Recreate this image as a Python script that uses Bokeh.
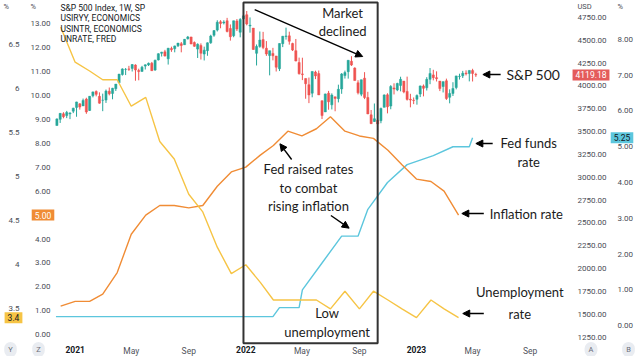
import pandas as pd
from bokeh.plotting import figure
from bokeh.models import (Range1d, LinearAxis, DatetimeAxis, FixedTicker, Label, ColumnDataSource,
                          BoxAnnotation, Arrow, NormalHead, PrintfTickFormatter)
from bokeh.embed import file_html
from bokeh.resources import INLINE

# ---------------- data ----------------
spx_first_week = "2020-11-23"
spx_open = [3566, 3634, 3694, 3675, 3694, 3723,
            3764, 3803, 3781, 3855, 3731, 3892, 3939, 3885, 3842, 3844, 3942, 3917, 3969,
            4034, 4124, 4179, 4185, 4191, 4228, 4169, 4158, 4216, 4229, 4248, 4173, 4284,
            4356, 4372, 4296, 4410, 4406, 4439, 4461, 4450, 4515, 4535, 4474, 4402, 4442,
            4348, 4385, 4471, 4553, 4610, 4701, 4689, 4712, 4628, 4548, 4710, 4587, 4733,
            4778, 4655, 4632, 4356, 4432, 4506, 4412, 4332, 4355, 4327, 4188, 4462, 4541,
            4547, 4463, 4385, 4255, 4131, 4081, 4013, 3920, 4151, 4134, 3838, 3715, 3920,
            3792, 3880, 3860, 3966, 4113, 4155, 4269, 4195, 4034, 3909, 4084, 3873, 3683,
            3610, 3624, 3619, 3765, 3902, 3779, 3977, 3956, 4005, 4052, 3939, 3854, 3843,
            3853, 3910, 3999, 3979, 4071, 4120, 4090, 4052, 3993, 4055, 3875, 3917, 3982,
            4102, 4110, 4140, 4134, 4167, 4124]
spx_high = [3644, 3699, 3712, 3726, 3711, 3760,
            3826, 3810, 3861, 3870, 3887, 3937, 3950, 3929, 3915, 3960, 3982, 3978, 4020,
            4129, 4192, 4195, 4219, 4238, 4236, 4188, 4219, 4234, 4255, 4262, 4286, 4356,
            4372, 4394, 4415, 4429, 4440, 4468, 4480, 4513, 4546, 4536, 4486, 4465, 4465,
            4429, 4475, 4559, 4608, 4718, 4719, 4718, 4744, 4672, 4713, 4731, 4741, 4808,
            4819, 4749, 4632, 4453, 4595, 4591, 4490, 4385, 4416, 4327, 4465, 4546, 4637,
            4593, 4472, 4513, 4309, 4308, 4081, 4091, 4158, 4166, 4168, 3838, 3914, 3945,
            3918, 3880, 4013, 4140, 4167, 4280, 4325, 4203, 4062, 4067, 4150, 3935, 3736,
            3807, 3712, 3762, 3906, 3919, 4008, 4028, 4034, 4100, 4052, 4101, 3913, 3873,
            3906, 4003, 4015, 4095, 4195, 4176, 4159, 4052, 4049, 4079, 3962, 4040, 4110,
            4133, 4164, 4170, 4170, 4187, 4143]
spx_low = [3566, 3594, 3645, 3647, 3636, 3702,
           3662, 3740, 3781, 3694, 3725, 3874, 3885, 3805, 3723, 3813, 3896, 3853, 3944,
           4031, 4112, 4118, 4164, 4157, 4056, 4061, 4157, 4179, 4217, 4164, 4165, 4278,
           4321, 4321, 4233, 4372, 4367, 4425, 4367, 4450, 4507, 4457, 4427, 4305, 4288,
           4278, 4329, 4460, 4537, 4595, 4630, 4672, 4585, 4495, 4532, 4600, 4531, 4733,
           4662, 4582, 4395, 4223, 4417, 4401, 4328, 4115, 4279, 4157, 4162, 4424, 4506,
           4451, 4381, 4269, 4124, 4063, 3859, 3811, 3875, 4074, 3900, 3637, 3715, 3739,
           3742, 3722, 3819, 3913, 4080, 4079, 4218, 4058, 3906, 3887, 3855, 3691, 3584,
           3606, 3492, 3591, 3765, 3699, 3744, 3906, 3942, 3940, 3919, 3839, 3765, 3800,
           3794, 3877, 3885, 3949, 4018, 4060, 4048, 3943, 3928, 3846, 3809, 3889, 3962,
           4069, 4086, 4114, 4049, 4048, 4098]
spx_close = [3638, 3699, 3663, 3709, 3703, 3756,
             3824, 3768, 3841, 3714, 3886, 3934, 3907, 3811, 3842, 3943, 3913, 3974, 4019,
             4129, 4185, 4180, 4181, 4233, 4174, 4156, 4204, 4230, 4247, 4166, 4281, 4352,
             4369, 4327, 4412, 4395, 4437, 4468, 4442, 4509, 4535, 4458, 4433, 4455, 4357,
             4391, 4471, 4545, 4605, 4697, 4682, 4698, 4595, 4538, 4712, 4621, 4726, 4766,
             4677, 4663, 4398, 4432, 4501, 4419, 4349, 4385, 4329, 4204, 4463, 4543, 4546,
             4488, 4392, 4272, 4132, 4123, 4023, 3901, 4158, 4109, 3901, 3675, 3912, 3825,
             3899, 3863, 3962, 4130, 4145, 4280, 4228, 4058, 3924, 4067, 3873, 3693, 3586,
             3640, 3583, 3753, 3901, 3771, 3993, 3965, 4026, 4071, 3934, 3852, 3845, 3839,
             3895, 3999, 3973, 4071, 4136, 4090, 4079, 3970, 4046, 3862, 3917, 3971, 4109,
             4105, 4138, 4133, 4169, 4136, 4119.18]

unemp_first_month = "2020-12-01"
unemp_rate = [6.7, 6.3, 6.2, 6.1, 6.1, 5.8, 5.9, 5.4, 5.2, 4.8, 4.6, 4.2, 3.9,
              4.0, 3.8, 3.6, 3.6, 3.6, 3.6, 3.5, 3.7, 3.5, 3.7, 3.6, 3.5,
              3.4, 3.6, 3.5, 3.4]

# CPI YoY, each value plotted at the start of the month after its period
infl_first_point = "2020-12-01"
infl_rate = [1.2, 1.4, 1.4, 1.7, 2.6, 4.2, 5.0, 5.4, 5.4, 5.3, 5.4, 6.2, 6.8, 7.0,
             7.5, 7.9, 8.5, 8.3, 8.6, 9.1, 8.5, 8.3, 8.2, 7.7, 7.1, 6.5,
             6.4, 6.0, 5.0]

fed_dates = ["2020-11-21", "2022-02-28", "2022-03-14", "2022-04-25", "2022-05-02",
             "2022-06-13", "2022-07-25", "2022-08-29", "2022-09-19", "2022-10-31",
             "2022-12-12", "2023-02-06", "2023-03-20", "2023-04-24", "2023-05-01"]
fed_rate = [0.25, 0.25, 0.50, 0.50, 1.00, 1.75, 2.50, 2.50, 3.25, 4.00, 4.50, 4.75,
            5.00, 5.00, 5.25]

x_tick_dates = ["2021-01-01", "2021-05-01", "2021-09-01", "2022-01-01", "2022-05-01",
                "2022-09-01", "2023-01-01", "2023-05-01", "2023-09-01"]
x_tick_labels = ["2021", "May", "Sep", "2022", "May", "Sep", "2023", "May", "Sep"]

infl_ticks = list(range(0, 14))
unemp_ticks = [3.5, 4.0, 4.5, 5.0, 5.5, 6.0, 6.5]
usd_ticks = list(range(1250, 4751, 250))
fed_ticks = list(range(0, 9))

title_lines = ["S&P 500 Index, 1W, SP", "USIRYY, ECONOMICS", "USINTR, ECONOMICS", "UNRATE, FRED"]

# visible pane extents (data)
pane_x = ("2020-11-20", "2023-11-20")
pane_infl = (-0.40, 13.95)
pane_unemp = (3.095, 7.0)
pane_usd = (1170, 4934)
pane_fed = (-0.53, 9.09)

# ------------- layout / styles -------------
def ms(d):
    return pd.Timestamp(d).value / 1e6

FIG_W, FIG_H = 641, 356
PANE_L, PANE_R, PANE_T, PANE_B = 55, 567, 0, 344

GREEN, RED = "#26a69a", "#ef5350"
YELLOW, ORANGE, CYAN = "#f6c445", "#f08c35", "#5cc6dd"
TXT = "#131722"
AX = "#4a4d56"
ANN_FONT = "Lato"
TICK_FONT = "Roboto"

x0, x1 = ms(pane_x[0]), ms(pane_x[1])
MPP = (x1 - x0) / (PANE_R - PANE_L)
XF0 = x0 - PANE_L * MPP
XF1 = x1 + (FIG_W - PANE_R) * MPP


def full(r):
    lo, hi = r
    per = (hi - lo) / (PANE_B - PANE_T)
    return Range1d(lo - (FIG_H - PANE_B) * per, hi + PANE_T * per)


def xpx(px):
    return XF0 + px * MPP


def ypx(py):
    lo, hi = pane_infl
    return hi - (py - PANE_T) * (hi - lo) / (PANE_B - PANE_T)


p = figure(width=FIG_W, height=FIG_H, x_range=Range1d(XF0, XF1), y_range=full(pane_infl),
           x_axis_location=None, y_axis_location=None,
           output_backend="svg", toolbar_location=None, min_border=0)
p.extra_y_ranges = {"unemp": full(pane_unemp), "usd": full(pane_usd), "fed": full(pane_fed)}
p.grid.visible = False
p.outline_line_color = None
p.background_fill_color = "white"
p.border_fill_color = "white"


def style_axis(ax, size="8px", standoff=5, color=AX):
    ax.axis_line_color = None
    ax.major_tick_line_color = None
    ax.minor_tick_line_color = None
    ax.major_tick_out = 0
    ax.major_tick_in = 0
    ax.major_label_text_font = TICK_FONT
    ax.major_label_text_font_size = size
    ax.major_label_text_color = color
    ax.major_label_standoff = standoff


ia = LinearAxis(ticker=FixedTicker(ticks=infl_ticks), formatter=PrintfTickFormatter(format="%.2f"),
                fixed_location=xpx(PANE_L))
style_axis(ia, standoff=5)
p.add_layout(ia, "left")

ua = LinearAxis(y_range_name="unemp", ticker=FixedTicker(ticks=unemp_ticks),
                major_label_overrides={t: ("%g" % t) for t in unemp_ticks},
                fixed_location=xpx(22))
style_axis(ua, standoff=3)
p.add_layout(ua, "left")

sa = LinearAxis(y_range_name="usd", ticker=FixedTicker(ticks=usd_ticks),
                formatter=PrintfTickFormatter(format="%.2f"), fixed_location=xpx(PANE_R))
style_axis(sa, standoff=10)
p.add_layout(sa, "right")

fa = LinearAxis(y_range_name="fed", ticker=FixedTicker(ticks=fed_ticks),
                formatter=PrintfTickFormatter(format="%.2f"), fixed_location=xpx(606))
style_axis(fa, standoff=11)
p.add_layout(fa, "right")

xt = [ms(d) for d in x_tick_dates]
xa = DatetimeAxis(ticker=FixedTicker(ticks=xt), fixed_location=pane_infl[0],
                  major_label_overrides={t: (lab if not lab.isdigit() else " ")
                                         for t, lab in zip(xt, x_tick_labels)})
style_axis(xa, size="8.5px", standoff=1, color="#50535c")
p.add_layout(xa, "below")

# ---------------- candles ----------------
wk = pd.date_range(spx_first_week, periods=len(spx_close), freq="W-MON")
src = ColumnDataSource(dict(
    x=[ms(d) for d in wk],
    high=spx_high, low=spx_low,
    top=[max(o, c) for o, c in zip(spx_open, spx_close)],
    bottom=[min(o, c) for o, c in zip(spx_open, spx_close)],
    color=[GREEN if c >= o else RED for o, c in zip(spx_open, spx_close)],
))
p.segment(x0="x", y0="low", x1="x", y1="high", color="color", line_width=1,
          source=src, y_range_name="usd")
p.vbar(x="x", width=4.6 * 86400000, top="top", bottom="bottom", fill_color="color",
       line_color="color", line_width=0.5, source=src, y_range_name="usd")

# ---------------- lines ----------------
p.line([ms(d) for d in fed_dates], fed_rate, color=CYAN, line_width=1.4, y_range_name="fed")
infl_x = [ms(d) for d in pd.date_range(infl_first_point, periods=len(infl_rate), freq="MS")]
p.line(infl_x, infl_rate, color=ORANGE, line_width=1.4)
unemp_x = [ms(d) for d in pd.date_range(unemp_first_month, periods=len(unemp_rate), freq="MS")]
p.line(unemp_x, unemp_rate, color=YELLOW, line_width=1.4, y_range_name="unemp")

# ---------------- highlight box ----------------
p.add_layout(BoxAnnotation(left=ms("2021-12-27"), right=ms("2022-10-10"),
                           top=4912, bottom=1184, y_range_name="usd",
                           fill_alpha=0, line_color="#333333", line_alpha=1, line_width=2))

# ---------------- annotations ----------------
def arrow(xa0, ya0, xa1, ya1):
    p.add_layout(Arrow(end=NormalHead(size=7, fill_color="black", line_color="black"),
                       x_start=ms(xa0), y_start=ya0, x_end=ms(xa1), y_end=ya1,
                       y_range_name="usd", line_color="black", line_width=1.4))


def note(x, y, text, size="13px"):
    p.add_layout(Label(x=ms(x), y=y, text=text, y_range_name="usd",
                       text_align="center", text_baseline="middle",
                       text_font=ANN_FONT, text_font_size=size, text_color="#1b1b1b"))


arrow("2022-01-20", 4835, "2022-09-08", 4321)
note("2022-07-27", 4795, "Market")
note("2022-07-27", 4598, "declined")

arrow("2023-06-30", 4124, "2023-05-23", 4124)
note("2023-09-08", 4124, "S&P 500", size="14px")

arrow("2023-06-13", 3369, "2023-05-08", 3369)
note("2023-08-29", 3380, "Fed funds")
note("2023-08-29", 3172, "rate")

arrow("2023-05-25", 2603, "2023-04-08", 2603)
note("2023-08-24", 2603, "Inflation rate")

arrow("2023-05-25", 1509, "2023-04-10", 1509)
note("2023-08-10", 1745, "Unemployment")
note("2023-08-10", 1509, "rate")

note("2022-05-15", 3085, "Fed raised rates")
note("2022-05-15", 2880, "to combat")
note("2022-05-15", 2680, "rising inflation")
arrow("2022-04-09", 3194, "2022-03-15", 3366)
arrow("2022-07-02", 2581, "2022-08-10", 2443)

note("2022-06-24", 1513, "Low")
note("2022-06-24", 1305, "unemployment")

# ---------------- title block ----------------
for i, t in enumerate(title_lines):
    p.add_layout(Label(x=xpx(PANE_L + 5), y=ypx(7 + 10.6 * i), text=t,
                       text_align="left", text_baseline="middle",
                       text_font=TICK_FONT, text_font_size="8.5px", text_color=TXT))

# ---------------- axis headers ----------------
for px, t in [(3, "%"), (30, "%"), (577, "USD"), (617, "%")]:
    p.add_layout(Label(x=xpx(px), y=ypx(6), text=t, text_align="left", text_baseline="middle",
                       text_font=TICK_FONT, text_font_size="7.5px", text_color=AX))

# ---------------- last-value tags ----------------
def tag(px, y, rng, text, bg, fg):
    p.add_layout(Label(x=xpx(px), y=y, y_range_name=rng, text=text,
                       text_align="center", text_baseline="middle",
                       text_font=TICK_FONT, text_font_size="8.5px", text_color=fg,
                       background_fill_color=bg, padding=dict(x=3, y=2)))


tag(42.5, infl_rate[-1], "default", "%.2f" % infl_rate[-1], ORANGE, "white")
tag(13, unemp_rate[-1], "unemp", "%g" % unemp_rate[-1], YELLOW, TXT)
tag(590.5, spx_close[-1], "usd", "%.2f" % spx_close[-1], "#e45b5b", "white")
tag(621.5, fed_rate[-1], "fed", "%.2f" % fed_rate[-1], CYAN, TXT)

# ---------------- year labels (bold) ----------------
for d, lab in zip(x_tick_dates, x_tick_labels):
    if lab.isdigit():
        p.add_layout(Label(x=ms(d), y=pane_infl[0], y_offset=-1, text=lab,
                           text_align="center", text_baseline="top",
                           text_font=TICK_FONT, text_font_size="8.5px",
                           text_font_style="bold", text_color=TXT))

# ---------------- scale badges ----------------
for px, t in [(10, "Y"), (38, "Z"), (590.5, "A"), (628, "B")]:
    p.add_layout(Label(x=xpx(px), y=ypx(349), text=t,
                       text_align="center", text_baseline="middle",
                       text_font=TICK_FONT, text_font_size="7.5px", text_color="#6a6d78",
                       background_fill_color="#e9ecf1", padding=dict(x=4, y=3), border_radius=7))

open("out.html", "w").write(file_html(p, INLINE))
